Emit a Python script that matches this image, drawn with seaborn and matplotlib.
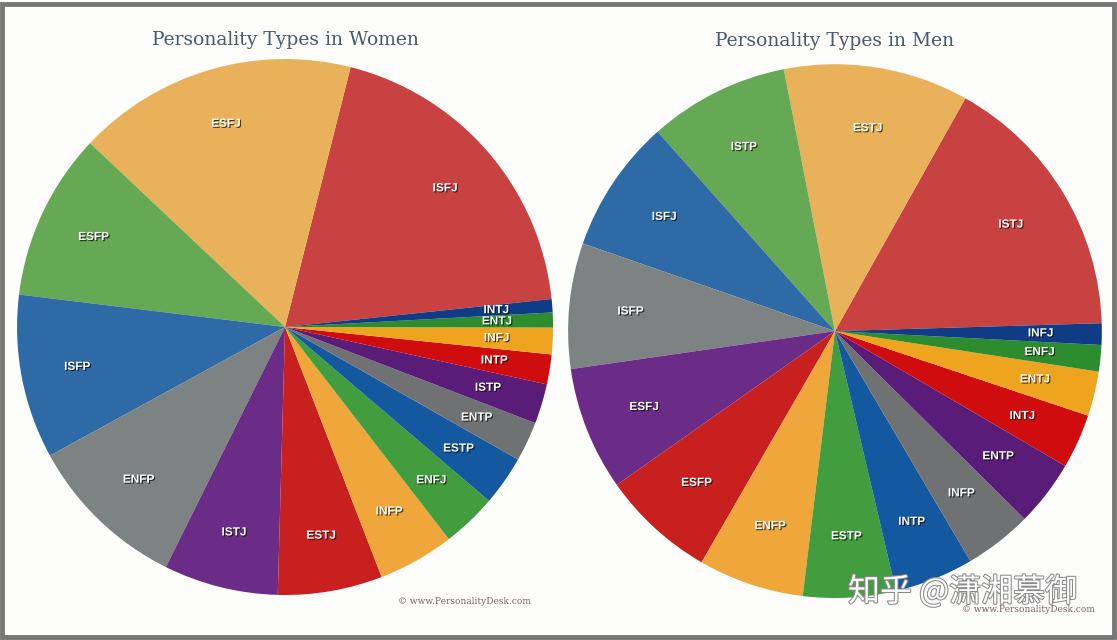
import matplotlib
matplotlib.use("Agg")
import matplotlib.pyplot as plt
import matplotlib.patheffects as pe
from matplotlib.patches import Rectangle
import seaborn as sns

# Share of each personality type (%), in drawing order (counter-clockwise)
women_types = ["ISFJ", "ESFJ", "ESFP", "ISFP", "ENFP", "ISTJ", "ESTJ", "INFP",
               "ENFJ", "ESTP", "ENTP", "ISTP", "INTP", "INFJ", "ENTJ", "INTJ"]
women_pct = [19.4, 16.9, 10.1, 9.9, 9.7, 6.9, 6.3, 4.6,
             3.3, 3.0, 2.4, 2.4, 1.8, 1.6, 0.9, 0.8]

men_types = ["ISTJ", "ESTJ", "ISTP", "ISFJ", "ISFP", "ESFJ", "ESFP", "ENFP",
             "ESTP", "INTP", "INFP", "ENTP", "INTJ", "ENTJ", "ENFJ", "INFJ"]
men_pct = [16.4, 11.2, 8.5, 8.1, 7.6, 7.5, 6.9, 6.4,
           5.6, 4.8, 4.1, 4.0, 3.3, 2.7, 1.6, 1.3]

slice_colors = ["#c94242", "#e9b25a", "#66a955", "#2e6aa6", "#7d8282", "#6b2c88",
                "#c8201f", "#efa63a", "#419d3e", "#14589f", "#6f7172", "#591c78",
                "#cf0d0e", "#efa420", "#2d8c2d", "#0f3c84"]

sns.set_theme(style="white")
plt.rcParams["font.family"] = ["DejaVu Sans"]

fig = plt.figure(figsize=(11.17, 6.40), dpi=100)
fig.patch.set_facecolor("#fdfdfb")


def draw_pie(rect, types, pct, start, label_r):
    ax = fig.add_axes(rect)
    wedges, texts = ax.pie(pct, labels=types, colors=sns.color_palette(slice_colors),
                           startangle=start, counterclock=True, labeldistance=label_r,
                           wedgeprops={"linewidth": 0},
                           textprops={"color": "white", "fontsize": 8.5,
                                      "family": "Liberation Sans",
                                      "fontweight": "bold", "ha": "center", "va": "center"})
    for t in texts:
        t.set_path_effects([pe.withSimplePatchShadow(offset=(0.8, -0.8),
                                                     shadow_rgbFace="black", alpha=0.7)])
    ax.set_xlim(-1, 1)
    ax.set_ylim(-1, 1)
    ax.set_aspect("equal")
    ax.axis("off")
    return ax


draw_pie([0.0152, 0.0703, 0.48, 0.8375], women_types, women_pct, 6, 0.79)
draw_pie([0.5085, 0.0656, 0.478, 0.834], men_types, men_pct, 1.7, 0.77)

# Titles
fig.text(285 / 1117, 1 - 40 / 640, "Personality Types in Women", ha="center", va="center",
         fontsize=13.5, family="DejaVu Serif", color="#48596a")
fig.text(835 / 1117, 1 - 41 / 640, "Personality Types in Men", ha="center", va="center",
         fontsize=13.5, family="DejaVu Serif", color="#48596a")

# Source notes
fig.text(398 / 1117, 1 - 601 / 640, "© www.PersonalityDesk.com", ha="left", va="center",
         fontsize=6.5, family="DejaVu Serif", color="#7a6464")
fig.text(962 / 1117, 1 - 610 / 640, "© www.PersonalityDesk.com", ha="left", va="center",
         fontsize=6.5, family="DejaVu Serif", color="#7a6464")

# Watermark
fig.text(848 / 1117, 1 - 592 / 640, "知乎 @潇湘慕御", ha="left", va="center",
         fontsize=23, family=["Noto Sans CJK SC", "DejaVu Sans"], color="white",
         path_effects=[pe.Stroke(linewidth=1.5, foreground="#8a8a8a"), pe.Normal()])

# Frame
fig.patches.append(Rectangle((0.002, 0.004), 0.995, 0.99, transform=fig.transFigure,
                             fill=False, edgecolor="#777777", linewidth=3.5))

plt.savefig("out.png", dpi=100, facecolor=fig.get_facecolor())
